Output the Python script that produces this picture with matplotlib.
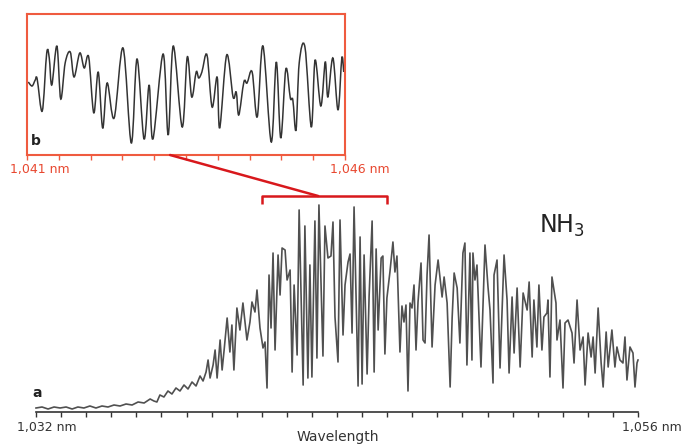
import numpy as np
import matplotlib
matplotlib.use("Agg")
import matplotlib.pyplot as plt
from matplotlib.patches import ConnectionPatch, PathPatch
from matplotlib.path import Path

# ---------- data ----------
# full NH3 band (a), wavelength in nm, absorbance in arbitrary units
wl_full = [
    1032.00, 1032.24, 1032.48, 1032.72, 1032.96, 1033.20, 1033.44, 1033.67, 1033.91, 1034.15,
    1034.39, 1034.63, 1034.87, 1035.11, 1035.35, 1035.59, 1035.83, 1036.07, 1036.31, 1036.55,
    1036.70, 1036.82, 1036.94, 1037.10, 1037.26, 1037.42, 1037.58, 1037.74, 1037.90, 1038.06,
    1038.22, 1038.38, 1038.54, 1038.66, 1038.78, 1038.86, 1038.94, 1039.06, 1039.14, 1039.22,
    1039.34, 1039.42, 1039.50, 1039.62, 1039.73, 1039.81, 1039.89, 1040.01, 1040.13, 1040.25,
    1040.41, 1040.53, 1040.61, 1040.73, 1040.81, 1040.93, 1041.05, 1041.13, 1041.21, 1041.29,
    1041.37, 1041.45, 1041.53, 1041.65, 1041.73, 1041.81, 1041.93, 1042.01, 1042.13, 1042.21,
    1042.29, 1042.41, 1042.49, 1042.65, 1042.72, 1042.84, 1042.92, 1043.00, 1043.12, 1043.20,
    1043.28, 1043.44, 1043.52, 1043.64, 1043.76, 1043.84, 1043.92, 1044.04, 1044.12, 1044.24,
    1044.32, 1044.44, 1044.52, 1044.60, 1044.68, 1044.84, 1044.92, 1045.00, 1045.08, 1045.20,
    1045.28, 1045.40, 1045.48, 1045.56, 1045.64, 1045.76, 1045.83, 1045.91, 1045.99, 1046.11,
    1046.23, 1046.31, 1046.39, 1046.51, 1046.59, 1046.67, 1046.75, 1046.83, 1046.91, 1046.99,
    1047.07, 1047.15, 1047.23, 1047.35, 1047.43, 1047.51, 1047.59, 1047.67, 1047.79, 1047.91,
    1048.03, 1048.19, 1048.27, 1048.39, 1048.51, 1048.59, 1048.67, 1048.79, 1048.90, 1049.02,
    1049.10, 1049.18, 1049.30, 1049.38, 1049.42, 1049.50, 1049.58, 1049.74, 1049.90, 1050.02,
    1050.10, 1050.22, 1050.26, 1050.38, 1050.50, 1050.66, 1050.78, 1050.86, 1050.98, 1051.06,
    1051.18, 1051.30, 1051.42, 1051.58, 1051.66, 1051.78, 1051.85, 1051.97, 1052.05, 1052.17,
    1052.25, 1052.37, 1052.41, 1052.49, 1052.57, 1052.73, 1052.77, 1052.89, 1053.01, 1053.09,
    1053.21, 1053.37, 1053.45, 1053.57, 1053.69, 1053.81, 1053.89, 1054.01, 1054.13, 1054.21,
    1054.29, 1054.41, 1054.53, 1054.61, 1054.73, 1054.81, 1054.96, 1055.08, 1055.16, 1055.28,
    1055.40, 1055.48, 1055.56, 1055.68, 1055.80, 1055.88, 1055.96, 1056.00,
]
abs_full = [
    4, 5, 3, 5, 4, 5, 3, 5, 4, 6,
    4, 6, 5, 7, 6, 8, 7, 10, 9, 13,
    11, 10, 17, 15, 21, 18, 24, 21, 27, 23,
    30, 26, 36, 31, 40, 52, 34, 47, 62, 34,
    72, 42, 62, 94, 60, 87, 42, 104, 82, 109,
    72, 90, 110, 100, 122, 84, 64, 70, 24, 137,
    84, 159, 62, 157, 117, 164, 162, 132, 142, 40,
    127, 57, 202, 27, 186, 34, 147, 35, 191, 54,
    207, 56, 186, 154, 156, 190, 95, 50, 192, 77,
    127, 150, 158, 79, 205, 26, 175, 28, 157, 38,
    116, 191, 40, 163, 82, 154, 156, 58, 114, 140,
    170, 140, 156, 60, 106, 90, 107, 21, 109, 104,
    127, 62, 110, 149, 72, 69, 137, 177, 65, 127,
    152, 115, 135, 109, 25, 94, 139, 124, 69, 159,
    169, 47, 159, 52, 159, 132, 147, 45, 167, 125,
    102, 29, 137, 152, 44, 157, 112, 39, 115, 59,
    124, 45, 119, 102, 130, 55, 112, 65, 127, 62,
    95, 99, 112, 35, 135, 109, 72, 92, 24, 89,
    92, 79, 49, 112, 62, 75, 27, 79, 55, 75,
    39, 104, 49, 25, 80, 45, 82, 45, 65, 52,
    49, 75, 32, 65, 59, 25, 49, 52,
]

# zoomed region (b), 1041-1046 nm
wl_zoom = [
    1041.02, 1041.08, 1041.13, 1041.16, 1041.24, 1041.31, 1041.35, 1041.39, 1041.47, 1041.53,
    1041.60, 1041.68, 1041.74, 1041.83, 1041.90, 1041.97, 1042.05, 1042.12, 1042.19, 1042.26,
    1042.37, 1042.51, 1042.64, 1042.73, 1042.84, 1042.92, 1042.98, 1043.14, 1043.22, 1043.30,
    1043.44, 1043.52, 1043.59, 1043.66, 1043.70, 1043.75, 1043.83, 1043.91, 1043.99, 1044.03,
    1044.14, 1044.24, 1044.29, 1044.33, 1044.41, 1044.46, 1044.54, 1044.62, 1044.71, 1044.84,
    1044.92, 1044.99, 1045.07, 1045.14, 1045.18, 1045.23, 1045.28, 1045.37, 1045.47, 1045.53,
    1045.62, 1045.69, 1045.73, 1045.81, 1045.89, 1045.95, 1045.98,
]
abs_zoom = [
    73, 69, 75, 76, 44, 102, 97, 70, 109, 56,
    92, 103, 78, 102, 87, 98, 42, 83, 27, 72,
    37, 107, 12, 96, 16, 70, 16, 101, 20, 109,
    28, 98, 58, 83, 77, 83, 100, 48, 78, 27,
    100, 58, 63, 40, 73, 72, 83, 38, 109, 13,
    93, 17, 86, 57, 55, 25, 92, 108, 28, 95,
    49, 93, 58, 97, 45, 97, 83,
]

full_range = (1032, 1056)
zoom_range = (1041, 1046)

# ---------- colours ----------
line_grey = "#505050"
box_red = "#ef5b3f"
label_red = "#e8472f"
bracket_red = "#d8181c"
text_dark = "#333333"


def smooth_path(xs, ys):
    # catmull-rom style bezier through the read points (drawing only)
    p = np.column_stack([xs, ys]).astype(float)
    verts = [p[0]]
    codes = [Path.MOVETO]
    n = len(p)
    for i in range(n - 1):
        p0 = p[i - 1] if i > 0 else p[i]
        p1, p2 = p[i], p[i + 1]
        p3 = p[i + 2] if i + 2 < n else p[i + 1]
        verts += [p1 + (p2 - p0) / 6.0, p2 - (p3 - p1) / 6.0, p2]
        codes += [Path.CURVE4] * 3
    return Path(verts, codes)


fig = plt.figure(figsize=(6.82, 4.45), dpi=100)
fig.patch.set_facecolor("white")

# ---------- main spectrum (a) ----------
px_per_nm = 602 / 24.0
ax = fig.add_axes([0, 0, 1, 1])
ax.set_xlim(full_range[0] - 36 / px_per_nm, full_range[1] + 44 / px_per_nm)
ax.set_ylim(-33, 412)
ax.patch.set_alpha(0)
ax.plot(wl_full, abs_full, color=line_grey, lw=1.2, solid_joinstyle="round")

for s in ["top", "left", "right"]:
    ax.spines[s].set_visible(False)
ax.spines["bottom"].set_position(("data", 0))
ax.spines["bottom"].set_bounds(*full_range)
ax.spines["bottom"].set_color(text_dark)
ax.spines["bottom"].set_linewidth(1.2)
ax.set_yticks([])
ax.set_xticks(np.arange(full_range[0], full_range[1] + 1, 1))
ax.set_xticklabels([])
ax.tick_params(axis="x", direction="out", length=3.8, width=1.0, color=text_dark)

fig.text(47 / 682, 1 - 427 / 445, "1,032 nm", ha="center", va="center",
         fontsize=9, color=text_dark)
fig.text(652 / 682, 1 - 427 / 445, "1,056 nm", ha="center", va="center",
         fontsize=9, color=text_dark)
fig.text(338 / 682, 1 - 441 / 445, "Wavelength", ha="center", va="baseline",
         fontsize=10, color=text_dark)
fig.text(32 / 682, 1 - 397 / 445, "a", ha="left", va="baseline",
         fontsize=10, fontweight="bold", color="#222222")
fig.text(539 / 682, 1 - 233 / 445, r"NH$_3$", ha="left", va="baseline",
         fontsize=17, color="#222222")

# bracket over the zoomed region
bracket_y, leg_y = 216, 208
ax.plot([zoom_range[0], zoom_range[0], zoom_range[1], zoom_range[1]],
        [leg_y, bracket_y, bracket_y, leg_y], color=bracket_red, lw=1.8,
        solid_capstyle="butt")

# ---------- inset (b) ----------
axin = fig.add_axes([27 / 682, (445 - 155) / 445, 318 / 682, 141 / 445])
axin.set_xlim(*zoom_range)
axin.set_ylim(0, 141)
axin.add_patch(PathPatch(smooth_path(wl_zoom, abs_zoom), facecolor="none",
                         edgecolor="#333333", lw=1.1))
for s in axin.spines.values():
    s.set_color(box_red)
    s.set_linewidth(1.5)
axin.set_yticks([])
axin.set_xticks(np.arange(zoom_range[0], zoom_range[1] + 0.01, 0.5))
axin.set_xticklabels([])
axin.tick_params(axis="x", direction="out", length=3.8, width=1.0, color=box_red)
axin.text(0.012, 0.05, "b", transform=axin.transAxes, ha="left", va="bottom",
          fontsize=10, fontweight="bold", color="#222222")

fig.text(40 / 682, 1 - 170 / 445, "1,041 nm", ha="center", va="center",
         fontsize=9, color=label_red)
fig.text(360 / 682, 1 - 170 / 445, "1,046 nm", ha="center", va="center",
         fontsize=9, color=label_red)

# connector from inset to bracket
link_wl = 1043.25
con = ConnectionPatch(xyA=(link_wl, 0), coordsA=axin.transData,
                      xyB=(link_wl, bracket_y), coordsB=ax.transData,
                      color=bracket_red, lw=1.8)
fig.add_artist(con)

fig.savefig("out.png", dpi=100, facecolor="white")
